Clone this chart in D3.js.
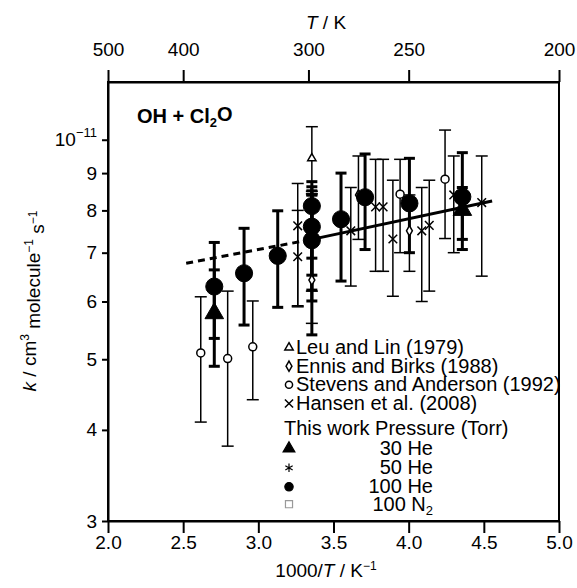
<!DOCTYPE html>
<html><head><meta charset="utf-8">
<script src="https://cdn.jsdelivr.net/npm/d3@7"></script>
<style>body{margin:0;background:#fff}svg{display:block}text{font-family:Arial,"Liberation Sans",sans-serif;fill:#000}</style>
</head><body><div id="chart"></div>
<script>
// x = 1000/T (K^-1), k in units of 1e-12 cm3 molecule-1 s-1, [x, k, low, high]
const leuLin = [[3.356, 9.43, 8.43, 10.42]];
const ennisBirks = [[3.356, 6.42, 5.6, 7.3], [3.666, 8.40, 7.3, 9.5], [4.005, 7.50, 6.6, 8.4]];
const stevensAnderson = [[2.617, 5.10, 4.10, 6.09], [2.796, 5.01, 3.80, 6.20], [2.963, 5.20, 4.40, 6.01], [3.943, 8.42, 7.0, 9.4], [4.242, 8.83, 7.32, 10.31]];
const hansen = [[3.262, 7.62, 5.92, 8.71], [3.262, 6.91, 5.9, 8.0], [3.615, 7.50, 6.3, 8.6], [3.78, 8.09, 6.6, 9.4], [3.83, 8.09, 6.6, 9.4], [3.895, 7.31, 6.1, 8.8], [4.087, 7.50, 6.0, 8.6], [4.137, 7.63, 6.2, 8.8], [4.30, 8.40, 7.0, 9.5], [4.486, 8.20, 6.5, 9.5], [3.356, 7.30, 6.2, 8.5]];
const work30He = [[2.707, 5.78, 5.34, 6.63], [4.357, 8.01, 7.3, 8.6]];
const work50He = [[3.356, 7.30, 6.01, 8.40]];
const work100He = [[2.707, 6.29, 4.89, 7.23], [2.905, 6.56, 5.57, 7.56], [3.129, 6.93, 5.89, 7.99], [3.356, 8.11, 6.88, 8.76], [3.356, 7.60, 6.52, 8.62], [3.356, 7.28, 6.22, 8.51], [3.55, 7.78, 6.4, 9.0], [3.71, 8.34, 7.07, 9.56], [4.005, 8.18, 7.0, 9.43], [4.357, 8.35, 7.07, 9.6]];
const work100N2 = [[3.356, 7.25, 5.40, 8.4]];
const fitDashed = [[2.52, 6.77], [3.356, 7.30]];
const fitSolid = [[3.356, 7.30], [4.555, 8.24]];
const xTicks = [2.0, 2.5, 3.0, 3.5, 4.0, 4.5, 5.0];
const yTicks = [3, 4, 5, 6, 7, 8, 9, 10];
const topTempTicks = [500, 400, 300, 250, 200];
const legendRefs = ["Leu and Lin (1979)", "Ennis and Birks (1988)", "Stevens and Anderson (1992)", "Hansen et al. (2008)"];
const legendWork = ["30 He", "50 He", "100 He", "100 N"];

const W = 577, H = 588;
const svg = d3.select("#chart").append("svg").attr("width", W).attr("height", H);
const x = d3.scaleLinear().domain([2, 5]).range([108, 559]);
const y = d3.scaleLog().domain([3, 12]).range([521, 82]);
const FS = 19, LFS = 20;

// frame
svg.append("rect").attr("x", x(2)).attr("y", y(12)).attr("width", x(5) - x(2)).attr("height", y(3) - y(12))
  .attr("fill", "none").attr("stroke", "#000").attr("stroke-width", 2);

// bottom axis
const gx = svg.append("g").attr("transform", `translate(0,${y(3)})`)
  .call(d3.axisBottom(x).tickValues(xTicks).tickFormat(d3.format(".1f")).tickSize(12).tickSizeOuter(0).tickPadding(3));
// left axis
const gy = svg.append("g").attr("transform", `translate(${x(2)},0)`)
  .call(d3.axisLeft(y).tickValues(yTicks).tickFormat(d => d === 10 ? "" : d).tickSize(6).tickSizeOuter(0).tickPadding(5));
// top axis
const gt = svg.append("g").attr("transform", `translate(0,${y(12)})`)
  .call(d3.axisTop(x).tickValues(topTempTicks.map(t => 1000 / t)).tickFormat((d, i) => topTempTicks[i]).tickSize(12).tickSizeOuter(0).tickPadding(14));
[gx, gy, gt].forEach(g => {
  g.select(".domain").attr("stroke-width", 2);
  g.selectAll(".tick line").attr("stroke-width", 2);
  g.selectAll("text").attr("font-size", FS).attr("font-family", "Arial, Liberation Sans, sans-serif");
});
// 10^-11 label
const t10 = svg.append("text").attr("x", x(2) - 11).attr("y", y(10)).attr("dy", "0.35em").attr("text-anchor", "end").attr("font-size", FS);
t10.append("tspan").text("10");
t10.append("tspan").attr("dy", "-0.7em").attr("font-size", 13).text("−11");

// axis titles
const tt = svg.append("text").attr("x", 326).attr("y", 29).attr("text-anchor", "middle").attr("font-size", FS);
tt.append("tspan").attr("font-style", "italic").text("T");
tt.append("tspan").text(" / K");
const bt = svg.append("text").attr("x", 326).attr("y", 577).attr("text-anchor", "middle").attr("font-size", FS);
bt.append("tspan").text("1000/");
bt.append("tspan").attr("font-style", "italic").text("T");
bt.append("tspan").text("  /  K");
bt.append("tspan").attr("dy", "-0.6em").attr("font-size", 12).text("−1");
const yt = svg.append("text").attr("transform", "translate(36,301) rotate(-90)").attr("text-anchor", "middle").attr("font-size", FS);
yt.append("tspan").attr("font-style", "italic").text("k");
yt.append("tspan").text(" / cm");
yt.append("tspan").attr("dy", "-0.6em").attr("font-size", 12).text("3");
yt.append("tspan").attr("dy", "0.6em").text(" molecule");
yt.append("tspan").attr("dy", "-0.6em").attr("font-size", 12).text("−1");
yt.append("tspan").attr("dy", "0.6em").text(" s");
yt.append("tspan").attr("dy", "-0.6em").attr("font-size", 12).text("−1");

// title
const ti = svg.append("text").attr("x", 137).attr("y", 122.7).attr("font-size", 20).attr("font-weight", "bold");
ti.append("tspan").text("OH + Cl");
ti.append("tspan").attr("dy", "0.3em").attr("font-size", 13).text("2");
ti.append("tspan").attr("dy", "-0.3em").text("O");

// fit lines
const line = d3.line().x(d => x(d[0])).y(d => y(d[1]));
svg.append("path").datum(fitDashed).attr("d", line).attr("fill", "none").attr("stroke", "#000").attr("stroke-width", 3).attr("stroke-dasharray", "7,5");
svg.append("path").datum(fitSolid).attr("d", line).attr("fill", "none").attr("stroke", "#000").attr("stroke-width", 3);

function errBars(data, sw, cap) {
  const g = svg.append("g").attr("stroke", "#000").attr("stroke-width", sw);
  data.forEach(d => {
    g.append("line").attr("x1", x(d[0])).attr("x2", x(d[0])).attr("y1", y(d[2])).attr("y2", y(d[3]));
    [d[2], d[3]].forEach(v => g.append("line").attr("x1", x(d[0]) - cap).attr("x2", x(d[0]) + cap).attr("y1", y(v)).attr("y2", y(v)));
  });
}
function symbols(data, type, size, fill, stroke, sw) {
  svg.append("g").selectAll("path").data(data).join("path")
    .attr("transform", d => `translate(${x(d[0])},${y(d[1])})`)
    .attr("d", d3.symbol().type(type).size(size))
    .attr("fill", fill).attr("stroke", stroke).attr("stroke-width", sw);
}
errBars(leuLin, 1.5, 6); errBars(ennisBirks, 1.5, 6); errBars(stevensAnderson, 1.5, 6); errBars(hansen, 1.5, 6);
errBars(work30He, 3, 5.5); errBars(work50He, 3, 5.5); errBars(work100He, 3, 5.5); errBars(work100N2, 3, 5.5);
symbols(leuLin, d3.symbolTriangle, 30, "#fff", "#000", 1.5);
symbols(ennisBirks, d3.symbolDiamond, 30, "#fff", "#000", 1.5);
symbols(stevensAnderson, d3.symbolCircle, 50, "#fff", "#000", 1.5);
symbols(hansen, d3.symbolTimes, 50, "none", "#000", 1.5);
symbols(work100N2, d3.symbolSquare, 100, "none", "#999", 1.5);
symbols(work30He, d3.symbolTriangle, 150, "#000", "#000", 1);
symbols(work50He, d3.symbolAsterisk, 120, "none", "#000", 1.5);
symbols(work100He, d3.symbolCircle, 230, "#000", "#000", 1);

// legend
const lx = 289, ltx = 296;
const refSyms = [[d3.symbolTriangle, 30, "#fff", "#000"], [d3.symbolDiamond, 30, "#fff", "#000"], [d3.symbolCircle, 40, "#fff", "#000"], [d3.symbolTimes, 45, "none", "#000"]];
const refBase = [354, 372.7, 391.3, 410];
legendRefs.forEach((s, i) => {
  svg.append("path").attr("transform", `translate(${lx},${refBase[i] - 6.5})`).attr("d", d3.symbol().type(refSyms[i][0]).size(refSyms[i][1]))
    .attr("fill", refSyms[i][2]).attr("stroke", refSyms[i][3]).attr("stroke-width", 1.5);
  svg.append("text").attr("x", ltx).attr("y", refBase[i]).attr("font-size", LFS).text(s);
});
svg.append("text").attr("x", 284).attr("y", 435).attr("font-size", LFS).text("This work Pressure (Torr)");
const workSyms = [[d3.symbolTriangle, 60, "#000", "#000"], [d3.symbolAsterisk, 50, "none", "#000"], [d3.symbolCircle, 55, "#000", "#000"], [d3.symbolSquare, 50, "none", "#999"]];
const workBase = [455, 474.3, 493.3, 510.7];
legendWork.forEach((s, i) => {
  svg.append("path").attr("transform", `translate(${lx},${workBase[i] - 6.5})`).attr("d", d3.symbol().type(workSyms[i][0]).size(workSyms[i][1]))
    .attr("fill", workSyms[i][2]).attr("stroke", workSyms[i][3]).attr("stroke-width", 1.2);
  const t = svg.append("text").attr("x", 433).attr("y", workBase[i]).attr("text-anchor", "end").attr("font-size", LFS);
  t.append("tspan").text(s);
  if (i === 3) t.append("tspan").attr("dy", "0.3em").attr("font-size", 13).text("2");
});
</script></body></html>
